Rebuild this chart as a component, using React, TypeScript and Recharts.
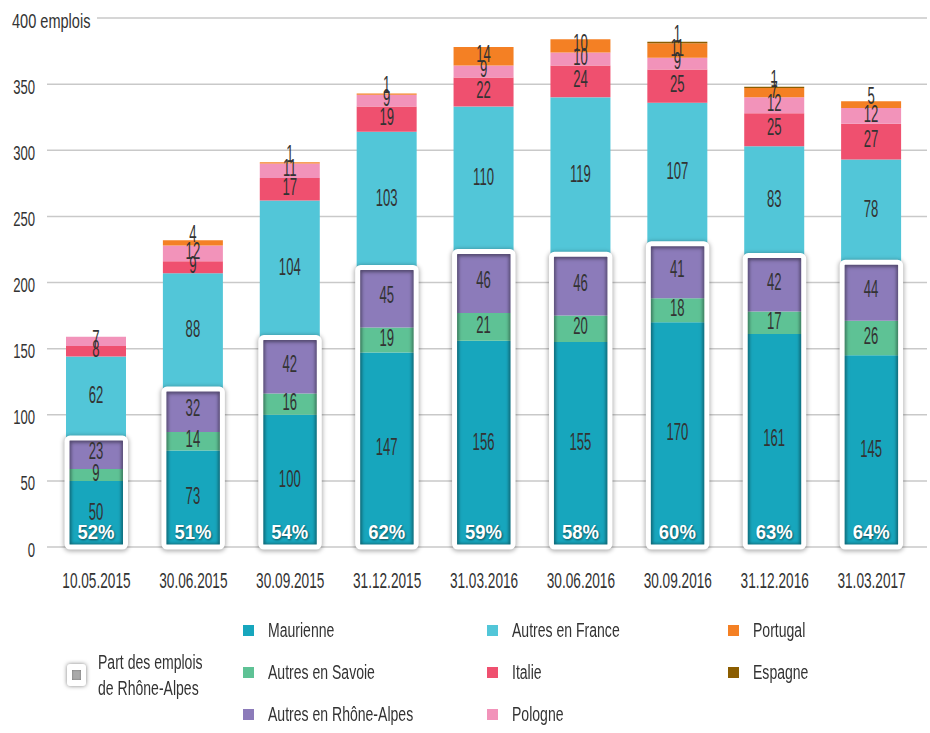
import React from 'react';
import { BarChart, Bar, XAxis, YAxis, CartesianGrid, LabelList } from 'recharts';

const categories = ['10.05.2015', '30.06.2015', '30.09.2015', '31.12.2015', '31.03.2016', '30.06.2016', '30.09.2016', '31.12.2016', '31.03.2017'];
const maurienne = [50, 73, 100, 147, 156, 155, 170, 161, 145];
const autresSavoie = [9, 14, 16, 19, 21, 20, 18, 17, 26];
const autresRhoneAlpes = [23, 32, 42, 45, 46, 46, 41, 42, 44];
const autresFrance = [62, 88, 104, 103, 110, 119, 107, 83, 78];
const italie = [8, 9, 17, 19, 22, 24, 25, 25, 27];
const pologne = [7, 12, 11, 9, 9, 10, 9, 12, 12];
const portugal = [0, 4, 1, 1, 14, 10, 11, 7, 5];
const espagne = [0, 0, 0, 0, 0, 0, 1, 1, 0];
const partRhoneAlpes = ['52%', '51%', '54%', '62%', '59%', '58%', '60%', '63%', '64%'];
const yTicks = [0, 50, 100, 150, 200, 250, 300, 350, 400];

const FONT = '"Liberation Sans", Arial, sans-serif';
const TEXT = '#333';

const series = [
  { key: 'maurienne', name: 'Maurienne', color: '#17a6bd', values: maurienne },
  { key: 'autresSavoie', name: 'Autres en Savoie', color: '#5ec295', values: autresSavoie },
  { key: 'autresRhoneAlpes', name: 'Autres en Rhône-Alpes', color: '#8c7bba', values: autresRhoneAlpes },
  { key: 'autresFrance', name: 'Autres en France', color: '#52c6d8', values: autresFrance },
  { key: 'italie', name: 'Italie', color: '#ef506f', values: italie },
  { key: 'pologne', name: 'Pologne', color: '#f293ba', values: pologne },
  { key: 'portugal', name: 'Portugal', color: '#f48024', values: portugal },
  { key: 'espagne', name: 'Espagne', color: '#8b5d00', values: espagne },
];

const data = categories.map((date, i) => {
  const row: any = {
    date,
    share: partRhoneAlpes[i],
    rhone: maurienne[i] + autresSavoie[i] + autresRhoneAlpes[i],
  };
  series.forEach((s) => {
    row[s.key] = s.values[i];
  });
  return row;
});

// legend columns, same as in the picture
const legendCols = [
  ['maurienne', 'autresSavoie', 'autresRhoneAlpes'],
  ['autresFrance', 'italie', 'pologne'],
  ['portugal', 'espagne'],
];

const CondText = ({ x, y, size, sx, anchor = 'middle', fill = TEXT, weight = 400, filter, children }: any) => (
  <text
    transform={`translate(${x},${y}) scale(${sx},1)`}
    fontSize={size}
    fontFamily={FONT}
    fontWeight={weight}
    textAnchor={anchor}
    fill={fill}
    filter={filter}
  >
    {children}
  </text>
);

const renderLabel = (props: any) => {
  const { x, y, width, height, value } = props;
  const v = Array.isArray(value) ? value[1] - value[0] : Number(value);
  if (!v) return null;
  const cy = y + height / 2 - (v <= 5 ? 9 : 2.5);
  return <CondText x={x + width / 2} y={cy + 8.2} size={23} sx={0.57}>{v}</CondText>;
};

// cyan segment + the white frame around the Rhône-Alpes part below it
const FranceShape = (props: any) => {
  const { x, y, width, height, fill, payload } = props;
  if (!payload || !height) return null;
  const ppu = height / payload.autresFrance;
  const top = y + height;
  const bottom = top + payload.rhone * ppu;
  const fx = x + 1;
  const fw = width - 1.5;
  const fy = top - 0.5;
  const fh = bottom - fy;
  const cx = x + width / 2;
  return (
    <g>
      <rect x={x} y={y} width={width} height={height} fill={fill} />
      <rect x={fx} y={fy + 1} width={fw} height={fh} rx={3} fill="none" stroke="rgba(0,0,0,0.3)" strokeWidth={7} filter="url(#blurOut)" />
      <rect x={fx + 3} y={fy + 3} width={fw - 6} height={fh - 5} fill="none" stroke="rgba(0,0,0,0.18)" strokeWidth={3} filter="url(#blurIn)" />
      <rect x={fx} y={fy} width={fw} height={fh} rx={3} fill="none" stroke="#fff" strokeWidth={5} />
      <CondText x={cx + 0.8} y={bottom - 6.7} size={21} sx={0.88} weight={700} fill="rgba(0,0,0,0.6)" filter="url(#blurIn)">
        {payload.share}
      </CondText>
      <CondText x={cx} y={bottom - 7.7} size={21} sx={0.88} weight={700} fill="#fff">
        {payload.share}
      </CondText>
    </g>
  );
};

const YTick = (props: any) => {
  const { y, payload } = props;
  if (payload.value === 400) {
    return (
      <g>
        <rect x={8} y={y - 6} width={89} height={12} fill="#fff" />
        <CondText x={12} y={y + 9.5} size={20.8} sx={0.7} anchor="start">400 emplois</CondText>
      </g>
    );
  }
  return <CondText x={35} y={y + 9.5} size={20.8} sx={0.63} anchor="end">{payload.value}</CondText>;
};

const XTick = (props: any) => {
  const { x, y, payload } = props;
  return <CondText x={x} y={y + 41} size={22} sx={0.62}>{payload.value}</CondText>;
};

const legendText: React.CSSProperties = {
  position: 'absolute',
  fontFamily: FONT,
  fontSize: '19.5px',
  lineHeight: '24px',
  color: TEXT,
  whiteSpace: 'nowrap',
  transform: 'scaleX(0.72)',
  transformOrigin: 'left center',
};

const Legend = () => {
  const colX = [243, 487, 728];
  const rowY = [630, 672, 714];
  return (
    <>
      {legendCols.map((col, ci) =>
        col.map((key, ri) => {
          const s = series.find((d) => d.key === key)!;
          return (
            <React.Fragment key={key}>
              <div style={{ position: 'absolute', left: colX[ci], top: rowY[ri] - 5.5, width: 11, height: 11, background: s.color }} />
              <div style={{ ...legendText, left: colX[ci] + 25, top: rowY[ri] - 12 }}>{s.name}</div>
            </React.Fragment>
          );
        })
      )}
      <div
        style={{
          position: 'absolute', left: 67, top: 664, width: 19, height: 22, background: '#fff',
          borderRadius: 3, boxShadow: '0 0 4px rgba(0,0,0,0.5)',
        }}
      >
        <div style={{ position: 'absolute', left: 5, top: 6, width: 9, height: 10, background: '#a9a9a9', boxShadow: 'inset 0 0 2px rgba(0,0,0,0.4)' }} />
      </div>
      <div style={{ ...legendText, left: 98, top: 650 }}>Part des emplois</div>
      <div style={{ ...legendText, left: 98, top: 676 }}>de Rhône-Alpes</div>
    </>
  );
};

const horizontalLine = (props: any) => {
  const { x1, x2, y1 } = props;
  return <line key={`h-${y1}`} x1={x1 - 1} x2={x2} y1={y1} y2={y1} stroke="#c9c9c9" strokeWidth={1.5} />;
};

export default function App() {
  return (
    <div style={{ position: 'absolute', left: 0, top: 0, width: 930, height: 733, background: '#fff' }}>
      <BarChart width={930} height={733} data={data} margin={{ top: 18, right: 3, bottom: 156, left: 0 }}>
        <defs>
          <filter id="blurOut" x="-30%" y="-30%" width="160%" height="160%">
            <feGaussianBlur stdDeviation="2" />
          </filter>
          <filter id="blurIn" x="-30%" y="-30%" width="160%" height="160%">
            <feGaussianBlur stdDeviation="1.2" />
          </filter>
        </defs>
        <CartesianGrid vertical={false} horizontal={horizontalLine} />
        <XAxis
          dataKey="date"
          axisLine={false}
          tickLine={false}
          tickSize={0}
          tickMargin={0}
          height={30}
          padding={{ left: 0, right: 7 }}
          tick={<XTick />}
          interval={0}
        />
        <YAxis
          width={48}
          domain={[0, 400]}
          ticks={yTicks}
          axisLine={false}
          tickLine={false}
          tick={<YTick />}
          interval={0}
        />
        {series.map((s) => (
          <Bar
            key={s.key}
            dataKey={s.key}
            stackId="a"
            fill={s.color}
            barSize={60}
            isAnimationActive={false}
            shape={s.key === 'autresFrance' ? <FranceShape /> : undefined}
          >
            <LabelList dataKey={s.key} content={renderLabel} />
          </Bar>
        ))}
      </BarChart>
      <Legend />
    </div>
  );
}
